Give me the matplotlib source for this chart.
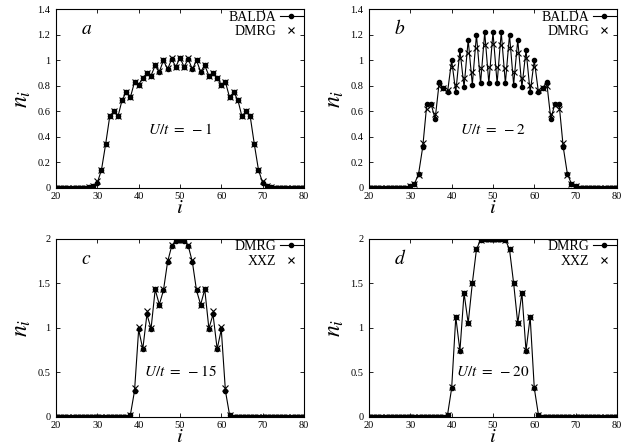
import numpy as np
import matplotlib
matplotlib.use("Agg")
import matplotlib.pyplot as plt

plt.rcParams['font.family'] = ['Liberation Serif', 'DejaVu Serif']
plt.rcParams['mathtext.fontset'] = 'stix'

sites = np.arange(20, 81)

# panel a, U/t = -1
balda_a = [0, 0, 0, 0, 0, 0, 0, 0, 0.005,
           0.01, 0.04, 0.14, 0.34, 0.56, 0.60, 0.56, 0.69, 0.75, 0.71,
           0.83, 0.81, 0.86, 0.90, 0.88, 0.96, 0.91, 1.00, 0.93, 1.01,
           0.95, 1.02, 0.95, 1.01, 0.93, 1.00, 0.91, 0.96, 0.88, 0.90,
           0.86, 0.81, 0.83, 0.71, 0.75, 0.69, 0.56, 0.60, 0.56, 0.34,
           0.14, 0.04, 0.01,
           0.005, 0, 0, 0, 0, 0, 0, 0, 0]
dmrg_a = [0, 0, 0, 0, 0, 0, 0, 0, 0.005,
          0.01, 0.05, 0.14, 0.34, 0.56, 0.60, 0.56, 0.69, 0.75, 0.71,
          0.83, 0.81, 0.86, 0.90, 0.88, 0.96, 0.92, 1.00, 0.94, 1.02,
          0.95, 1.02, 0.95, 1.02, 0.94, 1.00, 0.92, 0.96, 0.88, 0.90,
          0.86, 0.81, 0.83, 0.71, 0.75, 0.69, 0.56, 0.60, 0.56, 0.34,
          0.14, 0.05, 0.01,
          0.005, 0, 0, 0, 0, 0, 0, 0, 0]

# panel b, U/t = -2
balda_b = [0, 0, 0, 0, 0, 0, 0, 0, 0, 0,
           0.01, 0.03, 0.11, 0.32, 0.66, 0.66, 0.54, 0.83, 0.78, 0.75,
           1.00, 0.75, 1.08, 0.79, 1.16, 0.81, 1.20, 0.82, 1.22, 0.82,
           1.22, 0.82, 1.22, 0.82, 1.20, 0.81, 1.16, 0.79, 1.08, 0.75,
           1.00, 0.75, 0.78, 0.83, 0.54, 0.66, 0.66, 0.32, 0.11, 0.03,
           0.01,
           0, 0, 0, 0, 0, 0, 0, 0, 0, 0]
dmrg_b = [0, 0, 0, 0, 0, 0, 0, 0, 0, 0,
          0.01, 0.03, 0.10, 0.35, 0.62, 0.65, 0.58, 0.80, 0.78, 0.77,
          0.95, 0.81, 1.02, 0.86, 1.06, 0.91, 1.10, 0.94, 1.12, 0.95,
          1.13, 0.95, 1.12, 0.94, 1.10, 0.91, 1.06, 0.86, 1.02, 0.81,
          0.95, 0.77, 0.78, 0.80, 0.58, 0.65, 0.62, 0.35, 0.10, 0.03,
          0.01,
          0, 0, 0, 0, 0, 0, 0, 0, 0, 0]

# panel c, U/t = -15
dmrg_c = [0, 0, 0, 0, 0, 0, 0, 0, 0, 0, 0, 0, 0, 0, 0, 0, 0, 0,
          0.02, 0.29, 0.98, 0.76, 1.15, 0.99, 1.43, 1.26, 1.42, 1.74,
          1.92, 1.98, 1.99, 1.98, 1.92, 1.74, 1.42, 1.26, 1.43, 0.99,
          1.15, 0.76, 0.98, 0.29, 0.02,
          0, 0, 0, 0, 0, 0, 0, 0, 0, 0, 0, 0, 0, 0, 0, 0, 0, 0]
xxz_c = [0, 0, 0, 0, 0, 0, 0, 0, 0, 0, 0, 0, 0, 0, 0, 0, 0, 0,
         0.02, 0.32, 1.01, 0.77, 1.19, 1.00, 1.44, 1.26, 1.43, 1.76,
         1.93, 1.99, 2.00, 1.99, 1.93, 1.76, 1.43, 1.26, 1.44, 1.00,
         1.19, 0.77, 1.01, 0.32, 0.02,
         0, 0, 0, 0, 0, 0, 0, 0, 0, 0, 0, 0, 0, 0, 0, 0, 0, 0]

# panel d, U/t = -20
dmrg_d = [0, 0, 0, 0, 0, 0, 0, 0, 0, 0, 0, 0, 0, 0, 0, 0, 0, 0, 0,
          0.02, 0.32, 1.12, 0.74, 1.39, 1.05, 1.50, 1.88, 1.99, 2.00,
          2.00, 2.00, 2.00, 2.00, 1.99, 1.88, 1.50, 1.05, 1.39, 0.74,
          1.12, 0.32, 0.02,
          0, 0, 0, 0, 0, 0, 0, 0, 0, 0, 0, 0, 0, 0, 0, 0, 0, 0, 0]
xxz_d = [0, 0, 0, 0, 0, 0, 0, 0, 0, 0, 0, 0, 0, 0, 0, 0, 0, 0, 0,
         0.02, 0.33, 1.12, 0.75, 1.39, 1.05, 1.50, 1.88, 1.99, 2.00,
         2.00, 2.00, 2.00, 2.00, 1.99, 1.88, 1.50, 1.05, 1.39, 0.75,
         1.12, 0.33, 0.02,
         0, 0, 0, 0, 0, 0, 0, 0, 0, 0, 0, 0, 0, 0, 0, 0, 0, 0, 0]

yticks_top = [0, 0.2, 0.4, 0.6, 0.8, 1, 1.2, 1.4]
yticks_bot = [0, 0.5, 1, 1.5, 2]
xticks = [20, 30, 40, 50, 60, 70, 80]


def panel(rect, line_y, cross_y, names, letter, label, ymax, yticks, ux, uy):
    ax = fig.add_axes(rect)
    ax.plot(sites, line_y, 'k-', marker='o', ms=3, lw=0.8, label=names[0])
    ax.plot(sites, cross_y, 'kx', ms=5, mew=0.8, label=names[1])
    ax.set_xlim(20, 80)
    ax.set_ylim(0, ymax)
    ax.set_xticks(xticks)
    ax.set_yticks(yticks)
    ax.set_yticklabels(['%g' % v for v in yticks])
    ax.tick_params(direction='in', top=True, right=True, labelsize=7.5,
                   length=3, width=0.6)
    ax.tick_params(axis='x', pad=3)
    ax.tick_params(axis='y', pad=4)
    for s in ax.spines.values():
        s.set_linewidth(0.8)
    ax.set_xlabel(r'$i$', fontsize=15, labelpad=-1)
    ax.set_ylabel(r'$n_i$', fontsize=17, labelpad=3)
    ax.text(0.1, 0.86, r'$%s$' % letter, transform=ax.transAxes, fontsize=14)
    ax.text(ux, uy, label, transform=ax.transAxes, fontsize=11, ha='center')
    ax.legend(loc='upper right', frameon=False, markerfirst=False,
              fontsize=10, handlelength=1.6, handletextpad=0.3,
              labelspacing=0.1, borderaxespad=0.0, borderpad=0.1)
    return ax


fig = plt.figure(figsize=(6.26, 4.48), dpi=100)

panel([0.0895, 0.581, 0.396, 0.398], balda_a, dmrg_a, ['BALDA', 'DMRG'],
      'a', r'$U/t\ =\ -1$', 1.4, yticks_top, 0.5, 0.3)
panel([0.5895, 0.581, 0.396, 0.398], balda_b, dmrg_b, ['BALDA', 'DMRG'],
      'b', r'$U/t\ =\ -2$', 1.4, yticks_top, 0.5, 0.3)
panel([0.0895, 0.07, 0.396, 0.397], dmrg_c, xxz_c, ['DMRG', 'XXZ'],
      'c', r'$U/t\ =\ -15$', 2, yticks_bot, 0.5, 0.23)
panel([0.5895, 0.07, 0.396, 0.397], dmrg_d, xxz_d, ['DMRG', 'XXZ'],
      'd', r'$U/t\ =\ -20$', 2, yticks_bot, 0.5, 0.23)

plt.savefig('out.png', dpi=100)
